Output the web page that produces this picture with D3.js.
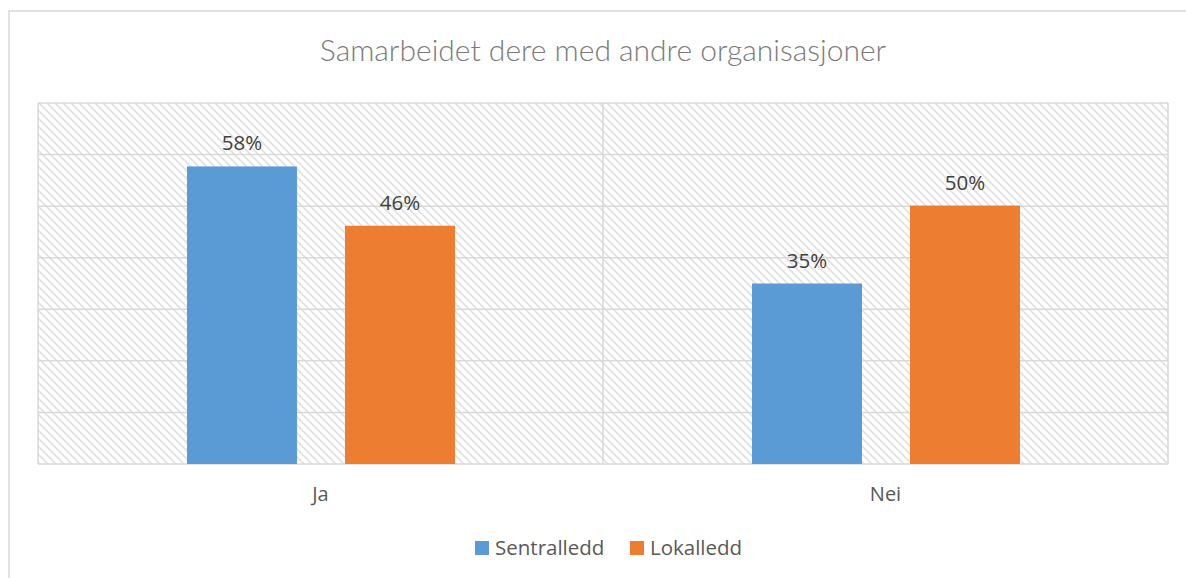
<!DOCTYPE html>
<html>
<head>
<meta charset="utf-8">
<script src="https://cdn.jsdelivr.net/npm/d3@7"></script>
<style>
  body { margin: 0; background: #fff; }
  svg text { font-family: "Open Sans", Lato, sans-serif; }
</style>
</head>
<body>
<div id="chart"></div>
<script>
// Data
const categories = ["Ja", "Nei"];
const seriesNames = ["Sentralledd", "Lokalledd"];
const sentralledd = [0.577, 0.35];
const lokalledd = [0.462, 0.501];
const yTicks = [0, 0.1, 0.2, 0.3, 0.4, 0.5, 0.6, 0.7];

const colors = ["#5b9bd5", "#ed7d31"];

const W = 1186, H = 578;
const plot = {left: 38, right: 1168, top: 103, bottom: 464};

const svg = d3.select("#chart")
    .append("svg")
        .attr("width", W)
        .attr("height", H);

// Hatched background pattern
const defs = svg.append("defs");
const pat = defs.append("pattern")
    .attr("id", "hatch")
    .attr("patternUnits", "userSpaceOnUse")
    .attr("width", 8)
    .attr("height", 8);
pat.append("rect").attr("width", 8).attr("height", 8).attr("fill", "#fff");
pat.append("path")
    .attr("d", "M-2,-2 L10,10 M-2,6 L2,10 M6,-2 L10,2")
    .attr("stroke", "#e2e2e2")
    .attr("stroke-width", 1.8);

// Outer chart frame (runs off right and bottom)
svg.append("rect")
    .attr("x", 9).attr("y", 11)
    .attr("width", W + 20).attr("height", H + 20)
    .attr("fill", "none")
    .attr("stroke", "#d9d9d9")
    .attr("stroke-width", 1.5);

// Scales
const x0 = d3.scaleBand()
    .domain(categories)
    .range([plot.left, plot.right]);

const x1 = d3.scaleBand()
    .domain(seriesNames)
    .range([149, 417])
    .paddingInner(0.304);

const y = d3.scaleLinear()
    .domain([0, 0.7])
    .range([plot.bottom, plot.top]);

// Plot area background
svg.append("rect")
    .attr("x", plot.left).attr("y", plot.top)
    .attr("width", plot.right - plot.left)
    .attr("height", plot.bottom - plot.top)
    .attr("fill", "url(#hatch)");

// Horizontal gridlines
svg.append("g")
    .selectAll("line")
    .data(yTicks)
    .join("line")
        .attr("x1", plot.left).attr("x2", plot.right)
        .attr("y1", d => y(d)).attr("y2", d => y(d))
        .attr("stroke", "#d9d9d9")
        .attr("stroke-width", 1.5);

// Vertical category dividers
const dividers = [plot.left].concat(categories.map(c => x0(c) + x0.bandwidth()));
svg.append("g")
    .selectAll("line")
    .data(dividers)
    .join("line")
        .attr("x1", d => d).attr("x2", d => d)
        .attr("y1", plot.top).attr("y2", plot.bottom)
        .attr("stroke", "#d9d9d9")
        .attr("stroke-width", 1.5);

// Bars
const rows = categories.map((c, i) => ({
    cat: c,
    values: [
        {key: seriesNames[0], value: sentralledd[i], color: colors[0]},
        {key: seriesNames[1], value: lokalledd[i], color: colors[1]}
    ]
}));

const groups = svg.append("g")
    .selectAll("g")
    .data(rows)
    .join("g")
        .attr("transform", d => `translate(${x0(d.cat)},0)`);

groups.selectAll("rect")
    .data(d => d.values)
    .join("rect")
        .attr("x", d => x1(d.key))
        .attr("y", d => y(d.value))
        .attr("width", x1.bandwidth())
        .attr("height", d => y(0) - y(d.value))
        .attr("fill", d => d.color);

// Data labels
groups.selectAll("text")
    .data(d => d.values)
    .join("text")
        .attr("x", d => x1(d.key) + x1.bandwidth() / 2)
        .attr("y", d => y(d.value) - 16)
        .attr("text-anchor", "middle")
        .style("font-size", "20.5px")
        .style("fill", "#404040")
        .text(d => Math.round(d.value * 100) + "%");

// Category labels
svg.append("g")
    .selectAll("text")
    .data(categories)
    .join("text")
        .attr("x", d => x0(d) + x0.bandwidth() / 2)
        .attr("y", 501)
        .attr("text-anchor", "middle")
        .style("font-size", "20px")
        .style("fill", "#595959")
        .text(d => d);

// Title
svg.append("text")
    .attr("x", 603)
    .attr("y", 61)
    .attr("text-anchor", "middle")
    .style("font-family", "Lato, sans-serif")
    .style("font-size", "30px")
    .style("font-weight", 300)
    .style("fill", "#7a7a7a")
    .text("Samarbeidet dere med andre organisasjoner");

// Legend
const legendX = [475, 630];
const legend = svg.append("g")
    .selectAll("g")
    .data(seriesNames)
    .join("g")
        .attr("transform", (d, i) => `translate(${legendX[i]},541)`);
legend.append("rect")
    .attr("width", 14).attr("height", 14)
    .attr("fill", (d, i) => colors[i]);
legend.append("text")
    .attr("x", 20).attr("y", 14)
    .style("font-size", "20.5px")
    .style("fill", "#595959")
    .text(d => d);
</script>
</body>
</html>
